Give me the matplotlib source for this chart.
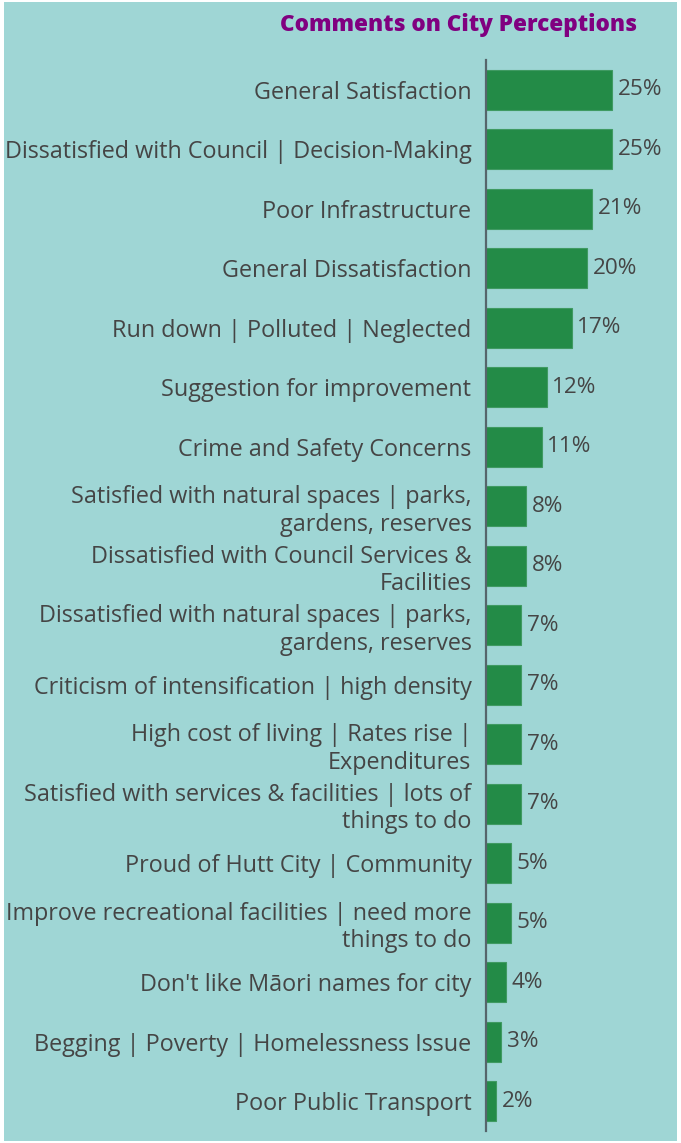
import matplotlib
matplotlib.use("Agg")
import matplotlib.pyplot as plt
from matplotlib.patches import Rectangle

categories = [
    "General Satisfaction",
    "Dissatisfied with Council | Decision-Making",
    "Poor Infrastructure",
    "General Dissatisfaction",
    "Run down | Polluted | Neglected",
    "Suggestion for improvement",
    "Crime and Safety Concerns",
    "Satisfied with natural spaces | parks,\ngardens, reserves",
    "Dissatisfied with Council Services &\nFacilities",
    "Dissatisfied with natural spaces | parks,\ngardens, reserves",
    "Criticism of intensification | high density",
    "High cost of living | Rates rise |\nExpenditures",
    "Satisfied with services & facilities | lots of\nthings to do",
    "Proud of Hutt City | Community",
    "Improve recreational facilities | need more\nthings to do",
    "Don't like Māori names for city",
    "Begging | Poverty | Homelessness Issue",
    "Poor Public Transport",
]
values = [25, 25, 21, 20, 17, 12, 11, 8, 8, 7, 7, 7, 7, 5, 5, 4, 3, 2]
value_labels = ["25%", "25%", "21%", "20%", "17%", "12%", "11%", "8%", "8%",
                "7%", "7%", "7%", "7%", "5%", "5%", "4%", "3%", "2%"]
title = "Comments on City Perceptions"

BG = "#9fd6d5"
BAR = "#238b47"
TEXT = "#454545"
FONT = "Open Sans"

W, H = 681, 1143
fig = plt.figure(figsize=(W / 100, H / 100), dpi=100, facecolor="white")

# teal panel inside a thin white margin
fig.add_artist(Rectangle((4 / W, 2 / H), (677 - 4) / W, (1141 - 2) / H,
                         transform=fig.transFigure, facecolor=BG,
                         edgecolor="none", zorder=0))

ax_left, ax_right = 486, 676
ax_top, ax_bottom = 60, 1131
ax = fig.add_axes([ax_left / W, 1 - ax_bottom / H,
                   (ax_right - ax_left) / W, (ax_bottom - ax_top) / H])
ax.set_facecolor("none")

n = len(categories)
ypos = list(range(n))
ax.barh(ypos, values, height=0.67, color=BAR, edgecolor="#3f9a62",
        linewidth=0.8, zorder=2)
ax.set_ylim(n - 0.5, -0.5)
ax.set_xlim(0, (ax_right - ax_left) / 5.05)

for y, v, lab in zip(ypos, values, value_labels):
    ax.text(v + 1.1, y, lab, va="center", ha="left", fontsize=16.2,
            color=TEXT, family=FONT)

ax.set_yticks(ypos)
ax.set_yticklabels(categories, fontsize=16.8, color=TEXT, family=FONT,
                   linespacing=1.2)
ax.tick_params(axis="y", length=0, pad=10.5)
ax.set_xticks([])
for s in ["top", "right", "bottom"]:
    ax.spines[s].set_visible(False)
ax.spines["left"].set_color("#56656b")
ax.spines["left"].set_linewidth(1.6)

fig.text(458 / W, 1 - 25 / H, title, ha="center", va="center",
         fontsize=16.2, fontweight="heavy", color="#800080", family=FONT)

fig.savefig("out.png", dpi=100, facecolor="white")
